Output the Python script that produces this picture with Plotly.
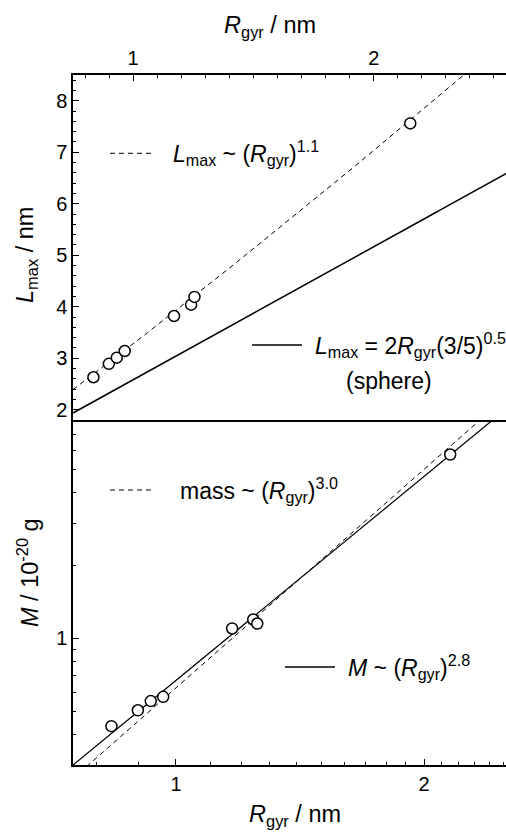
import numpy as np
import plotly.graph_objects as go

# Radius of gyration of each particle (nm)
r_gyr = [0.835, 0.899, 0.932, 0.965, 1.170, 1.241, 1.255, 2.152]
# Maximum particle dimension (nm)
l_max = [2.63, 2.89, 3.01, 3.14, 3.82, 4.04, 4.19, 7.56]
# Particle mass (units of 1e-20 g)
mass = [0.434, 0.505, 0.551, 0.574, 1.10, 1.198, 1.153, 5.76]

# Power-law guide lines: prefactor and exponent
l_coef, l_exp = 3.28, 1.1
sphere_coef = 2.0 / np.sqrt(3.0 / 5.0)
m_fit_coef, m_fit_exp = 0.671, 2.8
m_cube_coef, m_cube_exp = 0.625, 3.0

# Axis ticks
x_ticks = [1, 2]
x_minor_log = [0.8, 0.9, 1.1, 1.2, 1.3, 1.4, 1.5, 1.6, 1.7, 1.8, 1.9, 2.1, 2.2, 2.3, 2.4, 2.5]
l_ticks = [2, 3, 4, 5, 6, 7, 8]
m_ticks = [1]
m_minor = [0.4, 0.5, 0.6, 0.7, 0.8, 0.9, 2, 3, 4, 5, 6, 7]

W, H = 506, 832
ML, MR, MT, MB = 73, 0, 75, 67
PW, PH = W - ML - MR, H - MT - MB
FONT = "Liberation Sans, Arial, sans-serif"


def fx(px):
    return (px - ML) / PW


def fy(py):
    return (H - MB - py) / PH


r_line = np.linspace(0.75, 2.6, 300)

fig = go.Figure()

# Upper panel: maximum dimension vs radius of gyration
fig.add_trace(go.Scatter(x=r_line, y=l_coef * r_line ** l_exp, mode="lines",
                         line=dict(color="black", width=1, dash="5px,4px"),
                         xaxis="x2", yaxis="y2", hoverinfo="skip"))
fig.add_trace(go.Scatter(x=r_line, y=sphere_coef * r_line, mode="lines",
                         line=dict(color="black", width=1.5),
                         xaxis="x2", yaxis="y2", hoverinfo="skip"))
fig.add_trace(go.Scatter(x=r_gyr, y=l_max, mode="markers",
                         marker=dict(symbol="circle", size=11, color="white",
                                     line=dict(color="black", width=1.5)),
                         xaxis="x2", yaxis="y2"))

# Lower panel: mass vs radius of gyration
fig.add_trace(go.Scatter(x=r_line, y=m_cube_coef * r_line ** m_cube_exp, mode="lines",
                         line=dict(color="black", width=1, dash="5px,4px"),
                         xaxis="x", yaxis="y", hoverinfo="skip"))
fig.add_trace(go.Scatter(x=r_line, y=m_fit_coef * r_line ** m_fit_exp, mode="lines",
                         line=dict(color="black", width=1.2),
                         xaxis="x", yaxis="y", hoverinfo="skip"))
fig.add_trace(go.Scatter(x=r_gyr, y=mass, mode="markers",
                         marker=dict(symbol="circle", size=11, color="white",
                                     line=dict(color="black", width=1.5)),
                         xaxis="x", yaxis="y"))

tickfont = dict(family=FONT, size=20, color="black")
common = dict(showgrid=False, zeroline=False, showline=True, linecolor="black",
              linewidth=1.5, ticks="inside", tickcolor="black", tickwidth=1,
              ticklen=6, tickfont=tickfont)

fig.update_layout(
    width=W, height=H,
    margin=dict(l=ML, r=MR, t=MT, b=MB, pad=0),
    paper_bgcolor="white", plot_bgcolor="white",
    showlegend=False,
    xaxis=dict(domain=[0, 1], anchor="y", type="log",
               range=[np.log10(0.75), np.log10(2.515)],
               tickmode="array", tickvals=x_ticks, ticktext=[str(v) for v in x_ticks],
               minor=dict(tickmode="array", tickvals=x_minor_log, ticks="inside",
                          ticklen=3.5, tickcolor="black", tickwidth=1),
               **common),
    yaxis=dict(domain=[0, 0.5], anchor="x", type="log",
               range=[np.log10(0.3), np.log10(8)],
               tickmode="array", tickvals=m_ticks, ticktext=[str(v) for v in m_ticks],
               minor=dict(tickmode="array", tickvals=m_minor, ticks="inside",
                          ticklen=3.5, tickcolor="black", tickwidth=1),
               **common),
    xaxis2=dict(domain=[0, 1], anchor="y2", side="top", mirror=True,
                range=[0.75, 2.55],
                tickmode="array", tickvals=x_ticks, ticktext=[str(v) for v in x_ticks],
                minor=dict(dtick=0.1, tick0=0, ticks="inside", ticklen=3.5,
                           tickcolor="black", tickwidth=1),
                **common),
    yaxis2=dict(domain=[0.5, 1], anchor="x2", range=[1.8, 8.5],
                tickmode="array", tickvals=l_ticks, ticktext=[str(v) for v in l_ticks],
                minor=dict(dtick=0.2, tick0=0, ticks="inside", ticklen=3.5,
                           tickcolor="black", tickwidth=1),
                **common),
)

title_font = dict(family=FONT, size=23.5, color="black")
annos = [
    # axis titles
    dict(x=fx(270), y=fy(26), text="<i>R</i><sub>gyr</sub> / nm", textangle=0),
    dict(x=fx(295), y=fy(815), text="<i>R</i><sub>gyr</sub> / nm", textangle=0),
    dict(x=fx(26), y=fy(255), text="<i>L</i><sub>max</sub> / nm", textangle=-90),
    dict(x=fx(28), y=fy(573), text="<i>M</i> / 10<sup>-20</sup> g", textangle=-90),
]
for a in annos:
    a.update(xref="paper", yref="paper", showarrow=False, font=title_font,
             xanchor="center", yanchor="middle")

key_font = dict(family=FONT, size=23, color="black")
key_texts = [
    (171, 153, "<i>L</i><sub>max</sub> ~ (<i>R</i><sub>gyr</sub>)<sup>1.1</sup>"),
    (313, 345, "<i>L</i><sub>max</sub> = 2<i>R</i><sub>gyr</sub>(3/5)<sup>0.5</sup>"),
    (178, 490, "mass ~ (<i>R</i><sub>gyr</sub>)<sup>3.0</sup>"),
    (346, 667, "<i>M</i> ~ (<i>R</i><sub>gyr</sub>)<sup>2.8</sup>"),
]
for x0, y0, t in key_texts:
    annos.append(dict(x=fx(x0), y=fy(y0), text=t, xref="paper", yref="paper",
                      showarrow=False, font=key_font, xanchor="left",
                      yanchor="middle"))
annos.append(dict(x=fx(389), y=fy(381), text="(sphere)", xref="paper", yref="paper",
                  showarrow=False, font=key_font, xanchor="center",
                  yanchor="middle"))
fig.update_layout(annotations=annos)

# Line samples next to the key texts
samples = [
    (110, 155, 153.3, "5px,4px", 1),
    (252, 302, 345, "solid", 1.5),
    (110, 155, 490, "5px,4px", 1),
    (285, 335, 667, "solid", 1.5),
]
for x0, x1, yy, dash, w in samples:
    fig.add_shape(type="line", xref="paper", yref="paper",
                  x0=fx(x0), x1=fx(x1), y0=fy(yy), y1=fy(yy),
                  line=dict(color="black", width=w, dash=dash))

fig.write_html("out.html")
